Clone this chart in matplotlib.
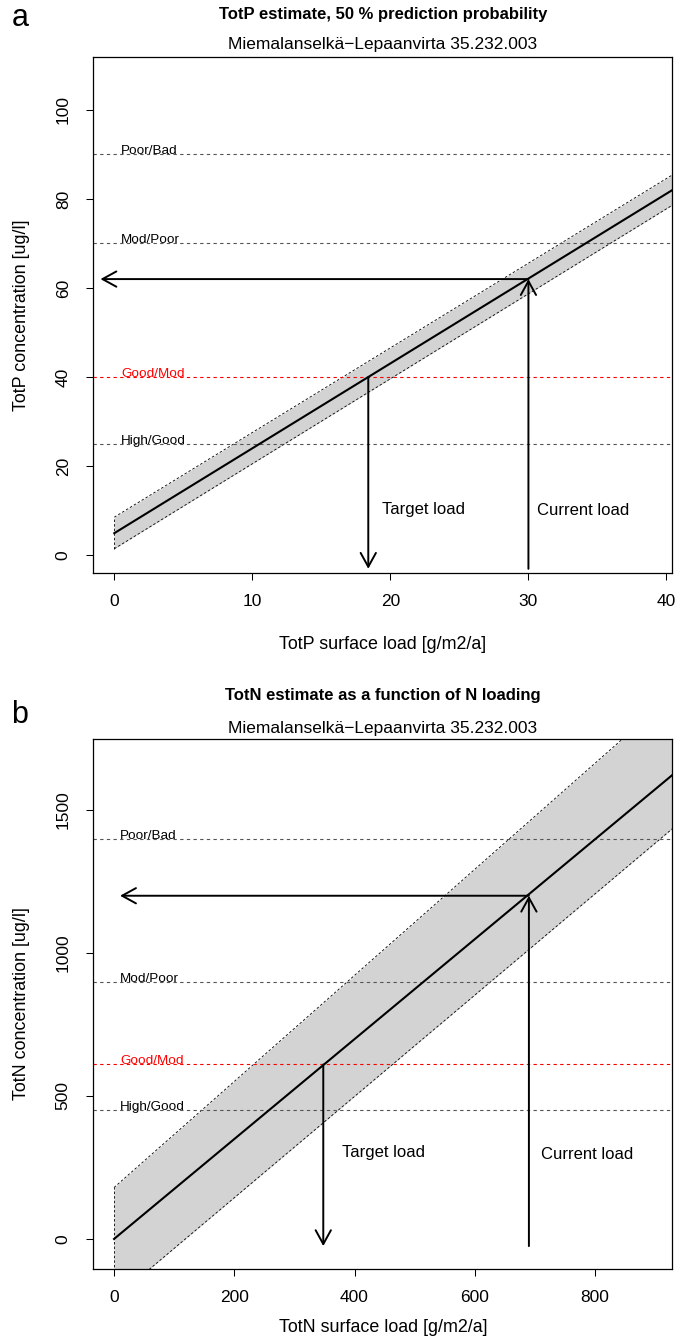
import matplotlib
matplotlib.use('Agg')
import matplotlib.pyplot as plt

plt.rcParams['font.family'] = ['Liberation Sans', 'DejaVu Sans']

# ---- panel a: TotP ----
p_class_names = ['Poor/Bad', 'Mod/Poor', 'Good/Mod', 'High/Good']
p_class_limits = [90, 70, 40, 25]
p_x = [0, 41]
p_fit = [4.9, 83.1]
p_upper = [8.5, 86.5]
p_lower = [1.4, 79.7]
p_target_load = 18.4
p_current_load = 30
p_current_conc = 62
p_xticks = [0, 10, 20, 30, 40]
p_yticks = [0, 20, 40, 60, 80, 100]

# ---- panel b: TotN ----
n_class_names = ['Poor/Bad', 'Mod/Poor', 'Good/Mod', 'High/Good']
n_class_limits = [1400, 900, 610, 450]
n_x = [0, 960]
n_fit = [0, 1677]
n_upper = [180, 1960]
n_lower = [-210, 1490]
n_target_load = 348
n_current_load = 690
n_current_conc = 1200
n_xticks = [0, 200, 400, 600, 800]
n_yticks = [0, 500, 1000, 1500]

site = 'Miemalanselkä\u2212Lepaanvirta 35.232.003'

W, H = 686, 1338
fig = plt.figure(figsize=(W / 100, H / 100), dpi=100)


def fx(x):
    return x / W


def fy(y):
    return 1 - y / H


def panel(top, bottom, xlim, ylim, x, fit, upper, lower, names, limits,
          target, current, conc, xticks, yticks, label_x, arrow_bottom, arrow_left,
          txt_target, txt_current):
    ax = fig.add_axes([fx(93), fy(bottom), fx(672) - fx(93), fy(top) - fy(bottom)])
    ax.set_xlim(xlim)
    ax.set_ylim(ylim)

    # prediction band
    ax.fill_between(x, lower, upper, color='#d3d3d3', lw=0, zorder=1)
    ax.plot(x, upper, color='k', lw=0.6, ls=(0, (3, 2.5)), zorder=2)
    ax.plot(x, lower, color='k', lw=0.6, ls=(0, (3, 2.5)), zorder=2)
    ax.plot([x[0], x[0]], [lower[0], upper[0]], color='k', lw=0.6, ls=(0, (3, 2.5)), zorder=2)

    # class limits
    for name, lim in zip(names, limits):
        col = 'red' if name == 'Good/Mod' else '#555555'
        ax.axhline(lim, color=col, lw=0.8, ls=(0, (3, 3)), zorder=2)
        ax.text(label_x, lim, name, fontsize=9.7, color='red' if name == 'Good/Mod' else 'k',
                ha='left', va='baseline', zorder=3)

    ax.plot(x, fit, color='k', lw=1.5, zorder=3)

    ap = dict(arrowstyle='->,head_length=1.0,head_width=0.55', lw=1.4, color='k',
              shrinkA=0, shrinkB=0, mutation_scale=10)
    target_conc = limits[names.index('Good/Mod')]
    ax.annotate('', xy=(target, arrow_bottom), xytext=(target, target_conc), arrowprops=ap)
    ax.annotate('', xy=(current, conc), xytext=(current, arrow_bottom), arrowprops=ap)
    ax.annotate('', xy=(arrow_left, conc), xytext=(current, conc), arrowprops=ap)

    ax.text(txt_target[0], txt_target[1], 'Target load', fontsize=12, ha='left', va='center')
    ax.text(txt_current[0], txt_current[1], 'Current load', fontsize=12, ha='left', va='center')

    ax.set_xticks(xticks)
    ax.set_yticks(yticks)
    ax.set_yticklabels([str(t) for t in yticks], rotation=90, va='center')
    ax.tick_params(direction='out', length=5, width=0.75, labelsize=12.5)
    ax.tick_params(axis='x', pad=10)
    ax.tick_params(axis='y', pad=11)
    for s in ax.spines.values():
        s.set_linewidth(0.9)
    return ax


panel(57, 573, (-1.54, 40.4), (-4.04, 111.9), p_x, p_fit, p_upper, p_lower,
      p_class_names, p_class_limits, p_target_load, p_current_load, p_current_conc,
      p_xticks, p_yticks, 0.5, -3.1, -1.0, (19.4, 10.3), (30.6, 9.9))

panel(739, 1269, (-35, 928), (-105, 1748), n_x, n_fit, n_upper, n_lower,
      n_class_names, n_class_limits, n_target_load, n_current_load, n_current_conc,
      n_xticks, n_yticks, 10, -25, 10, (379, 304), (710, 297))

# titles and labels
fig.text(fx(383), fy(15), 'TotP estimate, 50 % prediction probability', fontsize=12,
         fontweight='bold', ha='center', va='center')
fig.text(fx(383), fy(44), site, fontsize=12.5, ha='center', va='center')
fig.text(fx(20), fy(18), 'a', fontsize=22, ha='center', va='center')
fig.text(fx(383), fy(645), 'TotP surface load [g/m2/a]', fontsize=12.9, ha='center', va='center')
fig.text(fx(22), fy(315), 'TotP concentration [ug/l]', fontsize=12.9, ha='center', va='center',
         rotation=90)

fig.text(fx(383), fy(696), 'TotN estimate as a function of N loading', fontsize=12,
         fontweight='bold', ha='center', va='center')
fig.text(fx(383), fy(728), site, fontsize=12.5, ha='center', va='center')
fig.text(fx(20), fy(715), 'b', fontsize=22, ha='center', va='center')
fig.text(fx(383), fy(1328), 'TotN surface load [g/m2/a]', fontsize=12.9, ha='center', va='center')
fig.text(fx(22), fy(1004), 'TotN concentration [ug/l]', fontsize=12.9, ha='center', va='center',
         rotation=90)

fig.savefig('out.png', dpi=100)
